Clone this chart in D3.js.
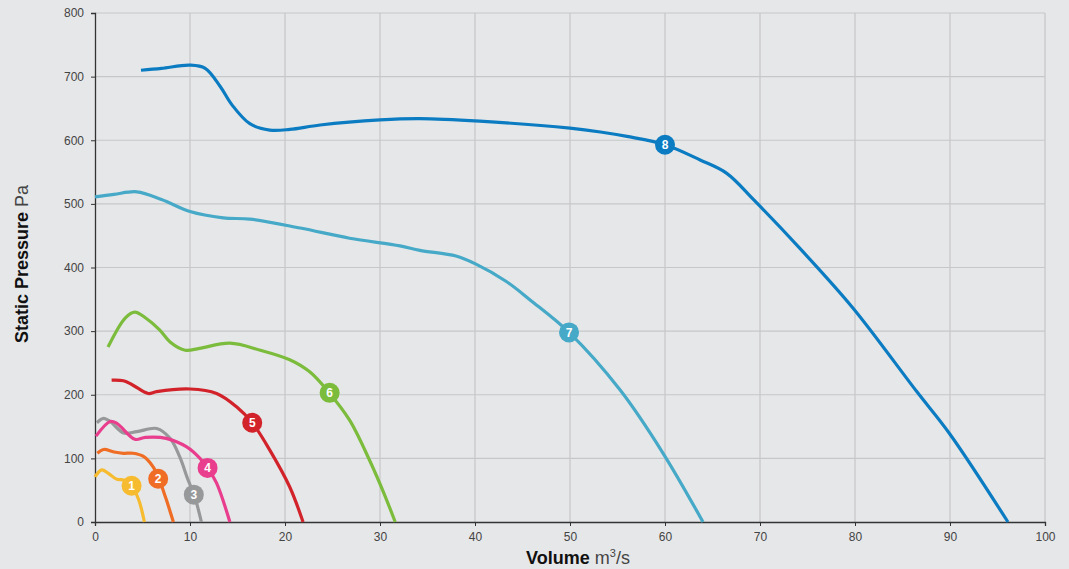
<!DOCTYPE html>
<html><head><meta charset="utf-8">
<script src="https://cdn.jsdelivr.net/npm/d3@7"></script>
<style>
html,body{margin:0;padding:0;background:#e6e7e9;}
svg{display:block;font-family:"Liberation Sans",Arial,Helvetica,sans-serif;}
</style></head><body>
<svg id="chart" width="1069" height="569"></svg>
<script>
const xTicks = [0,10,20,30,40,50,60,70,80,90,100];
const yTicks = [0,100,200,300,400,500,600,700,800];

const fan1 = [[0,71],[0.7,82],[1.4,76.5],[2.3,67],[3,66],[3.85,57],[4.6,35],[5.2,0]];
const fan2 = [[0.25,108],[0.9,114],[2,110],[3,108],[4,108],[5.1,103],[6.1,87],[6.7,69],[7.4,40],[8.25,0]];
const fan3 = [[0.2,156],[0.9,163],[1.6,158],[3,140],[4.4,142],[6.5,147],[7.9,131.5],[8.9,103],[9.8,66],[10.45,42],[11.2,0]];
const fan4 = [[0.1,135],[1.6,158],[2.3,155],[4.2,130],[5.3,133],[7.5,131.5],[9.65,118],[11.05,100],[11.9,84],[12.8,61],[14.2,0]];
const fan5 = [[1.75,223],[3,222],[4,215],[5.6,202],[6.5,205],[10,209],[12.8,202],[14.9,181],[16.6,155],[18.4,113],[20.5,55],[21.9,0]];
const fan6 = [[1.37,275],[3.2,321],[4.2,330],[5.3,321],[6.8,302],[7.9,283],[9.5,270],[11,273],[14.2,281],[17.4,270],[20.5,255],[22.6,236],[24.6,204],[26.8,160],[28.9,97],[30.5,42],[31.6,0]];
const fan7 = [[0,511],[2,515],[4.4,519],[7,507],[10,488],[13.5,478],[16.3,476],[21.6,462],[26.8,446],[32.1,434],[34.2,427],[38,418],[40,406],[43.3,378],[45.8,349],[49.9,298],[55.3,207],[59.8,108],[64,0]];
const fan8 = [[4.84,710],[7,713],[10,718],[11.6,713],[13.2,684],[14.4,656],[16.3,626],[18.4,616],[20.5,617],[23.7,624],[30,632],[34.2,634],[40.5,630],[50,619],[53.2,613],[56,606],[60,593],[63.7,569],[66.5,548],[69.3,507],[74.2,430],[79.8,336],[86.5,205],[90,138],[96.1,0]];

const series = [fan1,fan2,fan3,fan4,fan5,fan6,fan7,fan8];
const labels = ["1","2","3","4","5","6","7","8"];
const colors = ["#f6bb2e","#ef6d25","#979899","#e93d8d","#d2232b","#7cbc3c","#45a9c7","#0b7cc2"];
const markers = [[3.85,57],[6.65,68],[10.4,43],[11.85,85],[16.55,156],[24.7,203],[49.9,298],[60,593]];

const svg = d3.select("#chart");
const m = {l:95, r:1045, t:13, b:522};
const x = d3.scaleLinear().domain([0,100]).range([m.l, m.r]);
const y = d3.scaleLinear().domain([0,800]).range([m.b, m.t]);

// grid
svg.append("g").selectAll("line").data(xTicks.slice(1)).join("line")
  .attr("x1",d=>x(d)).attr("x2",d=>x(d)).attr("y1",m.t).attr("y2",m.b)
  .attr("stroke","#c6c7c9").attr("stroke-width",1.2);
svg.append("g").selectAll("line").data(yTicks.slice(1)).join("line")
  .attr("x1",m.l).attr("x2",m.r).attr("y1",d=>y(d)).attr("y2",d=>y(d))
  .attr("stroke","#c6c7c9").attr("stroke-width",1.2);

// axes
const xAxis = svg.append("g").attr("transform",`translate(0,${m.b})`)
  .call(d3.axisBottom(x).tickValues(xTicks).tickSize(4).tickPadding(6));
const yAxis = svg.append("g").attr("transform",`translate(${m.l},0)`)
  .call(d3.axisLeft(y).tickValues(yTicks).tickSize(4).tickPadding(7));
[xAxis,yAxis].forEach(a=>{
  a.select(".domain").attr("stroke","#333").attr("stroke-width",1.3);
  a.selectAll(".tick line").attr("stroke","#333");
  a.selectAll(".tick text").attr("fill","#444").style("font-size","12px").style("font-family","Liberation Sans, Arial, sans-serif");
});

// lines
const line = d3.line().x(d=>x(d[0])).y(d=>y(d[1])).curve(d3.curveCatmullRom.alpha(0.5));
series.forEach((s,i)=>{
  svg.append("path").datum(s).attr("d",line).attr("fill","none")
    .attr("stroke",colors[i]).attr("stroke-width",3.2).attr("stroke-linecap","butt");
});

// markers
const mg = svg.append("g").selectAll("g").data(markers).join("g")
  .attr("transform",d=>`translate(${x(d[0])},${y(d[1])})`);
mg.append("circle").attr("r",10).attr("fill",(d,i)=>colors[i]);
mg.append("text").text((d,i)=>labels[i]).attr("text-anchor","middle").attr("dy","0.36em")
  .attr("fill","#fff").style("font-size","12px").style("font-weight","bold");

// titles
const xt = svg.append("text").attr("x",(m.l+m.r)/2 + 8).attr("y",564).attr("text-anchor","middle")
  .attr("fill","#111").style("font-size","18px");
xt.append("tspan").text("Volume").style("font-weight","bold");
xt.append("tspan").text(" m").style("fill","#444");
xt.append("tspan").text("3").style("font-size","11px").attr("dy","-7").style("fill","#444");
xt.append("tspan").text("/s").attr("dy","7").style("fill","#444");

const yt = svg.append("text").attr("transform",`translate(28,264) rotate(-90)`)
  .attr("text-anchor","middle").attr("fill","#111").style("font-size","18px");
yt.append("tspan").text("Static Pressure").style("font-weight","bold");
yt.append("tspan").text(" Pa").style("fill","#444");
</script>
</body></html>
